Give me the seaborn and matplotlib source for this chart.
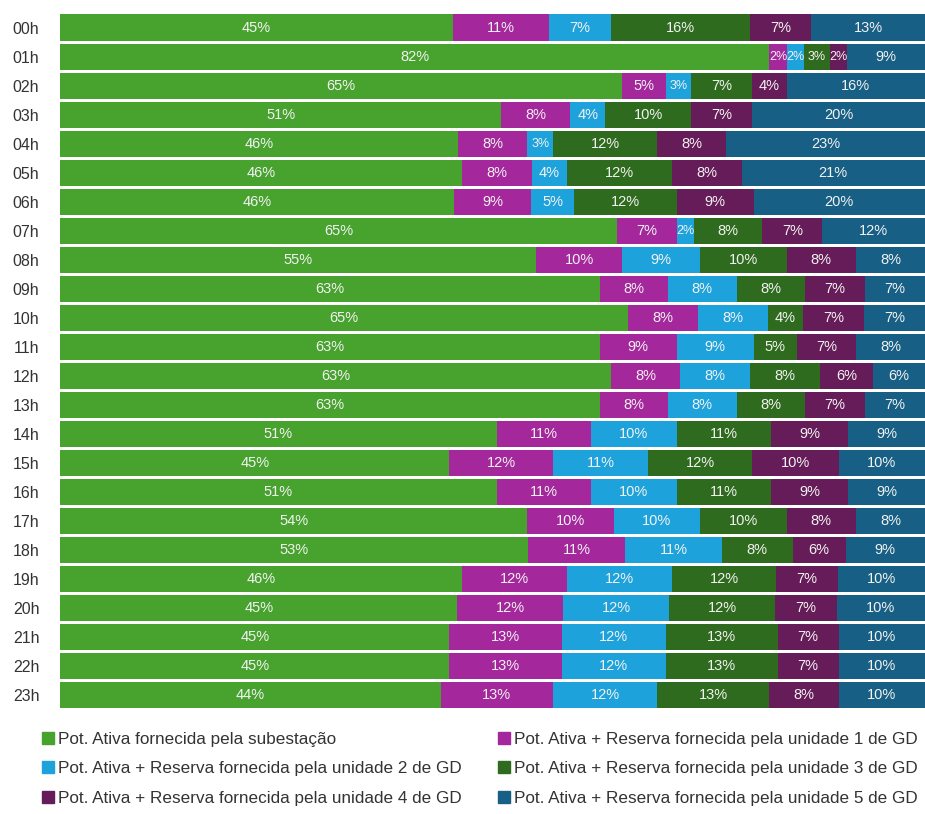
import numpy as np
import pandas as pd
import matplotlib
matplotlib.use("Agg")
import matplotlib.pyplot as plt
from matplotlib.lines import Line2D
import seaborn as sns

hours = [f"{h:02d}h" for h in range(24)]
subestacao = [45, 82, 65, 51, 46, 46, 46, 65, 55, 63, 65, 63, 63, 63, 51, 45, 51, 54, 53, 46, 45, 45, 45, 44]
gd1 = [11, 2, 5, 8, 8, 8, 9, 7, 10, 8, 8, 9, 8, 8, 11, 12, 11, 10, 11, 12, 12, 13, 13, 13]
gd2 = [7, 2, 3, 4, 3, 4, 5, 2, 9, 8, 8, 9, 8, 8, 10, 11, 10, 10, 11, 12, 12, 12, 12, 12]
gd3 = [16, 3, 7, 10, 12, 12, 12, 8, 10, 8, 4, 5, 8, 8, 11, 12, 11, 10, 8, 12, 12, 13, 13, 13]
gd4 = [7, 2, 4, 7, 8, 8, 9, 7, 8, 7, 7, 7, 6, 7, 9, 10, 9, 8, 6, 7, 7, 7, 7, 8]
gd5 = [13, 9, 16, 20, 23, 21, 20, 12, 8, 7, 7, 8, 6, 7, 9, 10, 9, 8, 9, 10, 10, 10, 10, 10]

series_names = [
    "Pot. Ativa fornecida pela subestação",
    "Pot. Ativa + Reserva fornecida pela unidade 1 de GD",
    "Pot. Ativa + Reserva fornecida pela unidade 2 de GD",
    "Pot. Ativa + Reserva fornecida pela unidade 3 de GD",
    "Pot. Ativa + Reserva fornecida pela unidade 4 de GD",
    "Pot. Ativa + Reserva fornecida pela unidade 5 de GD",
]
colors = ["#47a22e", "#a5279c", "#1da2dc", "#2f6b1e", "#651c58", "#175f84"]

sns.set_theme(style="white")
plt.rcParams["font.family"] = ["Liberation Sans", "DejaVu Sans"]

vals = np.array([subestacao, gd1, gd2, gd3, gd4, gd5], dtype=float)
share = vals / vals.sum(axis=0) * 100
cum = np.cumsum(share, axis=0)

fig = plt.figure(figsize=(9.25, 8.14), dpi=100)
ax = fig.add_axes([0.065, 0.128, 0.935, 0.856])

# draw from the rightmost cumulative layer to the leftmost
for i in range(5, -1, -1):
    df = pd.DataFrame({"hour": hours, "value": cum[i]})
    sns.barplot(data=df, x="value", y="hour", orient="h", color=colors[i],
                width=0.9, ax=ax, saturation=1, edgecolor="none", linewidth=0)

for i in range(6):
    left = cum[i] - share[i]
    for j in range(24):
        fs = 9 if share[i][j] < 3.5 else 10.5
        ax.text(left[j] + share[i][j] / 2, j, f"{int(vals[i][j])}%",
                ha="center", va="center", color="#f2f2f2", fontsize=fs)

ax.set_xlim(0, 100)
ax.set_ylim(23.5, -0.5)
ax.set_xlabel("")
ax.set_ylabel("")
ax.set_xticks([])
ax.tick_params(axis="y", length=0, labelsize=11.5, labelcolor="#333333", pad=15)
for s in ax.spines.values():
    s.set_visible(False)

handles = [Line2D([0], [0], marker="s", linestyle="none", markersize=8,
                  markerfacecolor=c, markeredgecolor=c) for c in colors]
order = [0, 2, 4, 1, 3, 5]
fig.legend([handles[k] for k in order], [series_names[k] for k in order],
           ncol=2, loc="upper left", bbox_to_anchor=(0.027, 0.12),
           frameon=False, fontsize=12.3, handletextpad=0.15, handlelength=0.9,
           labelspacing=0.85, columnspacing=2.0, labelcolor="#333333")

fig.savefig("out.png", dpi=100)
